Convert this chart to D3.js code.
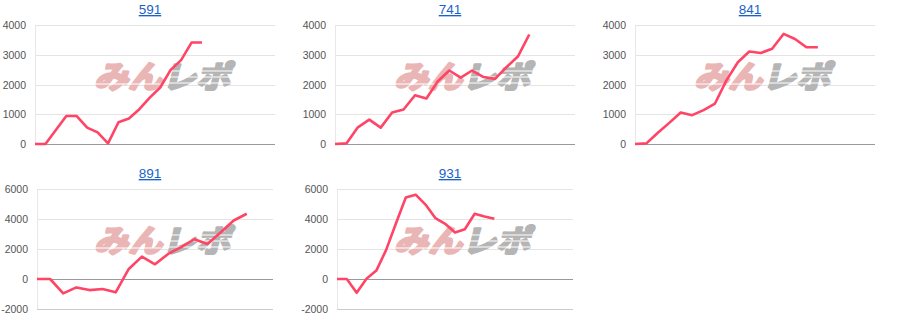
<!DOCTYPE html>
<html>
<head>
<meta charset="utf-8">
<script src="https://cdn.jsdelivr.net/npm/d3@7"></script>
<style>
    body { margin: 0; background: #fff; font-family: "Liberation Sans", Arial, sans-serif; }
    #chart-area { width: 900px; height: 330px; }
</style>
</head>
<body>
<div id="chart-area"></div>
<script>

// chart titles (machine numbers)
const titles = ["591", "741", "841", "891", "931"];

// number of x slots each chart axis spans
const xSlots = [23, 21, 21, 18, 24];

// y domains and tick values
const yDomainTop = [0, 4000];
const yDomainBottom = [-2000, 6000];
const yTicksTop = [0, 1000, 2000, 3000, 4000];
const yTicksBottom = [-2000, 0, 2000, 4000, 6000];

// series values (difference in medals over the day)
const values591 = [0, 0, 470, 940, 940, 550, 390, 20, 730, 860, 1170, 1560, 1900, 2490, 2820, 3410, 3410];
const values741 = [0, 20, 560, 820, 550, 1060, 1160, 1640, 1530, 2110, 2470, 2230, 2470, 2250, 2190, 2580, 2940, 3680];
const values841 = [0, 20, 380, 710, 1060, 970, 1140, 1360, 2140, 2750, 3110, 3060, 3200, 3700, 3530, 3250, 3250];
const values891 = [0, 0, -960, -560, -740, -670, -890, 670, 1490, 980, 1670, 2120, 2650, 2340, 3100, 3900, 4350];
const values931 = [0, 0, -910, 20, 560, 1940, 3720, 5440, 5620, 4960, 4060, 3680, 3100, 3320, 4350, 4170, 4010];

const seriesList = [values591, values741, values841, values891, values931];


/* * * * * * * * * * * * * *
*    class SmallLineVis    *
* * * * * * * * * * * * * */

class SmallLineVis {

    constructor(svg, index, title, values, slots, yDomain, yTicks) {
        this.svg = svg;
        this.index = index;
        this.title = title;
        this.values = values;
        this.slots = slots;
        this.yDomain = yDomain;
        this.yTicks = yTicks;

        this.initVis();
    }

    initVis() {
        let vis = this;

        let col = vis.index % 3;
        let row = Math.floor(vis.index / 3);

        vis.panelX = col * 300;
        vis.panelY = row * 164;

        // the bottom row has wider labels (-2000), so the plot starts a bit later
        vis.margin = row === 0
            ? {top: 25, left: 35, right: 25, bottom: 16}
            : {top: 25, left: 37, right: 27, bottom: 19};
        vis.width = 300 - vis.margin.left - vis.margin.right;
        vis.height = row === 0 ? 119 : 120;

        vis.g = vis.svg.append("g")
            .attr("transform", `translate(${vis.panelX + vis.margin.left}, ${vis.panelY + vis.margin.top})`);

        vis.x = d3.scaleLinear()
            .domain([0, vis.slots])
            .range([0, vis.width]);

        vis.y = d3.scaleLinear()
            .domain(vis.yDomain)
            .range([vis.height, 0]);

        vis.wrangleData();
    }

    wrangleData() {
        let vis = this;
        vis.displayData = vis.values.map((v, i) => ({ slot: i, value: v }));
        vis.updateVis();
    }

    updateVis() {
        let vis = this;

        // title, drawn as an underlined link
        vis.svg.append("text")
            .attr("x", vis.panelX + 150)
            .attr("y", vis.panelY + 14)
            .attr("text-anchor", "middle")
            .style("font-size", "13.5px")
            .style("fill", "#1a62c8")
            .style("text-decoration", "underline")
            .text(vis.title);

        // gridlines
        vis.g.selectAll(".grid")
            .data(vis.yTicks)
            .enter()
            .append("line")
            .attr("class", "grid")
            .attr("x1", 0)
            .attr("x2", vis.width)
            .attr("y1", d => Math.round(vis.y(d)) + 0.5)
            .attr("y2", d => Math.round(vis.y(d)) + 0.5)
            .attr("stroke", d => d === 0 ? "#999" : (d === vis.yDomain[0] ? "#ccc" : "#e4e4e4"))
            .attr("stroke-width", 1);

        // faint vertical axis line
        vis.g.append("line")
            .attr("x1", 0.5)
            .attr("x2", 0.5)
            .attr("y1", 0)
            .attr("y2", vis.height)
            .attr("stroke", "#e8e8e8");

        // y tick labels
        vis.g.selectAll(".tick-label")
            .data(vis.yTicks)
            .enter()
            .append("text")
            .attr("class", "tick-label")
            .attr("x", -9)
            .attr("y", d => vis.y(d) + 4)
            .attr("text-anchor", "end")
            .style("font-size", "10.5px")
            .style("fill", "#555")
            .text(d => d);

        // watermark logo
        vis.drawWatermark();

        // the line itself
        let line = d3.line()
            .x(d => vis.x(d.slot))
            .y(d => vis.y(d.value));

        vis.g.append("path")
            .datum(vis.displayData)
            .attr("d", line)
            .attr("fill", "none")
            .attr("stroke", "#ff4466")
            .attr("stroke-width", 2.6)
            .attr("stroke-linejoin", "round");
    }

    drawWatermark() {
        let vis = this;

        let wx = 165 - vis.margin.left;
        let wy = 52;

        let logo = vis.g.append("g")
            .attr("transform", `translate(${wx}, ${wy}) skewX(-14)`);

        let text = logo.append("text")
            .attr("x", 0)
            .attr("y", 11)
            .attr("text-anchor", "middle")
            .attr("textLength", 136)
            .attr("lengthAdjust", "spacingAndGlyphs")
            .style("font-family", "'Noto Sans CJK JP'")
            .style("font-weight", "bold")
            .style("font-size", "31px")
            .style("stroke-width", 2.6)
            .style("stroke-linejoin", "round");

        text.append("tspan").style("fill", "#e9b5b5").style("stroke", "#e9b5b5").text("みん");
        text.append("tspan").style("fill", "#b5b5b5").style("stroke", "#b5b5b5").text("レポ");

        // speed lines through the gray half
        logo.selectAll(".speed")
            .data([-6, 0, 6])
            .enter()
            .append("line")
            .attr("x1", 2)
            .attr("x2", 72)
            .attr("y1", d => d)
            .attr("y2", d => d)
            .attr("stroke", "#fff")
            .attr("stroke-width", 1.1);

        logo.append("line")
            .attr("x1", -70)
            .attr("x2", -2)
            .attr("y1", 7)
            .attr("y2", 7)
            .attr("stroke", "#fff")
            .attr("stroke-width", 1);
    }
}


let svg = d3.select("#chart-area").append("svg")
    .attr("width", 900)
    .attr("height", 330);

seriesList.forEach((values, i) => {
    let row = Math.floor(i / 3);
    new SmallLineVis(
        svg, i, titles[i], values, xSlots[i],
        row === 0 ? yDomainTop : yDomainBottom,
        row === 0 ? yTicksTop : yTicksBottom
    );
});

</script>
</body>
</html>
